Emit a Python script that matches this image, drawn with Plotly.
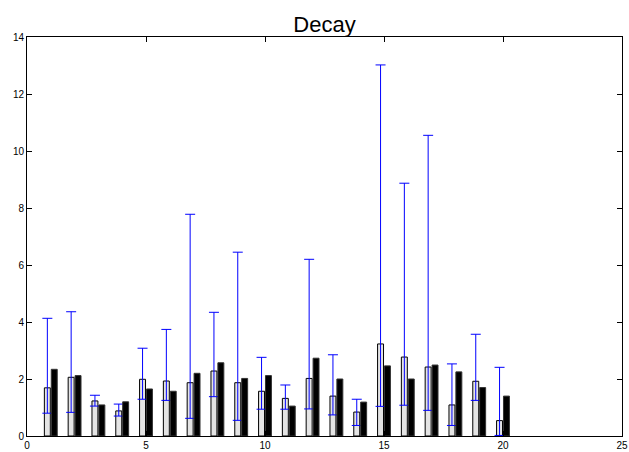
import plotly.graph_objects as go

x = list(range(1, 21))
white_vals = [1.69, 2.06, 1.23, 0.88, 1.99, 1.93, 1.87, 2.28, 1.87, 1.57,
              1.32, 2.02, 1.40, 0.84, 3.23, 2.77, 2.42, 1.09, 1.92, 0.54]
err_upper = [4.13, 4.36, 1.43, 1.12, 3.08, 3.74, 7.78, 4.34, 6.45, 2.76,
             1.79, 6.20, 2.85, 1.29, 13.02, 8.87, 10.55, 2.53, 3.57, 2.41]
err_lower = [0.80, 0.83, 1.05, 0.70, 1.29, 1.25, 0.62, 1.38, 0.55, 0.94,
             0.94, 0.95, 0.74, 0.37, 1.04, 1.08, 0.90, 0.37, 1.25, 0.02]
black_vals = [2.34, 2.12, 1.09, 1.20, 1.65, 1.57, 2.20, 2.57, 2.02, 2.12,
              1.05, 2.73, 2.00, 1.19, 2.46, 2.00, 2.49, 2.25, 1.70, 1.40]

plus = [u - v for u, v in zip(err_upper, white_vals)]
minus = [v - l for v, l in zip(white_vals, err_lower)]

fig = go.Figure()
fig.add_trace(go.Bar(
    x=x, y=white_vals, offset=-0.27, width=0.25,
    marker=dict(color="#e4e4e4", line=dict(color="black", width=1)),
    error_y=dict(type="data", symmetric=False, array=plus, arrayminus=minus,
                 color="#0000ff", thickness=1, width=5),
    showlegend=False,
))
fig.add_trace(go.Bar(
    x=x, y=black_vals, offset=0.02, width=0.25,
    marker=dict(color="black", line=dict(color="#333333", width=1)),
    showlegend=False,
))

axis_common = dict(
    showgrid=False, zeroline=False, showline=True, linecolor="black", linewidth=1,
    mirror="ticks", ticks="inside", ticklen=5, tickcolor="black", automargin=False,
    tickfont=dict(family="Liberation Sans, Arial, sans-serif", size=10, color="black"),
)
fig.update_layout(
    width=629, height=452,
    margin=dict(l=27, r=7, t=37, b=16),
    paper_bgcolor="white", plot_bgcolor="white",
    barmode="overlay",
    title=dict(text="Decay", x=0.5, xref="paper", xanchor="center",
               y=0.947, yref="container", yanchor="middle",
               font=dict(family="Liberation Sans, Arial, sans-serif", size=22, color="black")),
    xaxis=dict(range=[0, 25], tickvals=[0, 5, 10, 15, 20, 25], **axis_common),
    yaxis=dict(range=[0, 14], tickvals=[0, 2, 4, 6, 8, 10, 12, 14], **axis_common),
)
fig.write_html("out.html")
